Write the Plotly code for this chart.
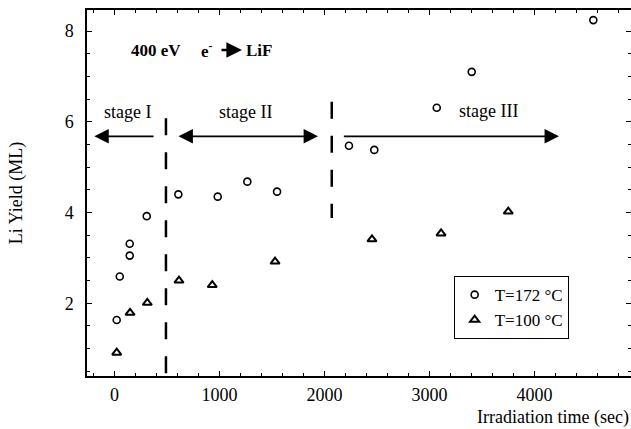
import plotly.graph_objects as go

# ---- data ----
t172_time = [21, 50, 145, 145, 307, 608, 983, 1265, 1548, 2233, 2474, 3069, 3402, 4560]
t172_yield = [1.63, 2.59, 3.05, 3.31, 3.92, 4.40, 4.35, 4.68, 4.46, 5.47, 5.38, 6.31, 7.10, 8.24]
t100_time = [21, 148, 312, 614, 931, 1529, 2452, 3110, 3750]
t100_yield = [0.91, 1.79, 2.01, 2.50, 2.40, 2.92, 3.41, 3.54, 4.02]

series_names = ["T=172 °C", "T=100 °C"]
stage_labels = ["stage I", "stage II", "stage III"]
x_ticks = [0, 1000, 2000, 3000, 4000]
y_ticks = [2, 4, 6, 8]

FONT = "Liberation Serif, Times New Roman, serif"

fig = go.Figure()
fig.add_trace(go.Scatter(
    x=t172_time, y=t172_yield, mode="markers", name=series_names[0],
    marker=dict(symbol="circle-open", size=7, color="black", line=dict(width=1.6, color="black")),
))
fig.add_trace(go.Scatter(
    x=t100_time, y=t100_yield, mode="markers", name=series_names[1],
    marker=dict(symbol="triangle-up-open", size=8, color="black", line=dict(width=2, color="black")),
))

# stage boundaries (dashed vertical lines)
fig.add_shape(type="line", x0=490, x1=490, y0=6.08, y1=0.40, xref="x", yref="y",
              line=dict(color="black", width=2.5, dash="17px,17px"))
fig.add_shape(type="line", x0=2069, x1=2069, y0=6.44, y1=3.88, xref="x", yref="y",
              line=dict(color="black", width=2.5, dash="17px,17px"))

arrow_y = 5.68
arr = dict(xref="x", yref="y", axref="x", ayref="y", text="", showarrow=True,
           arrowhead=2, arrowsize=1.6, arrowwidth=1.8, arrowcolor="black")
# stage I arrow (pointing left)
fig.add_annotation(x=-192, y=arrow_y, ax=386, ay=arrow_y, **arr)
# stage II double arrow
fig.add_annotation(x=1938, y=arrow_y, ax=595, ay=arrow_y, arrowside="end+start", **arr)
# stage III arrow (pointing right)
fig.add_annotation(x=4233, y=arrow_y, ax=2170, ay=arrow_y, **arr)

txt = dict(xref="x", yref="y", showarrow=False, font=dict(family=FONT, size=18, color="black"))
fig.add_annotation(x=124, y=6.215, text=stage_labels[0], **txt)
fig.add_annotation(x=1248, y=6.215, text=stage_labels[1], **txt)
fig.add_annotation(x=3560, y=6.23, text=stage_labels[2], **txt)

# title "400 eV  e- -> LiF"
bold = dict(xref="x", yref="y", showarrow=False, xanchor="left",
            font=dict(family=FONT, size=17, color="black"))
fig.add_annotation(x=140, y=7.58, text="<b>400 eV</b>", **bold)
fig.add_annotation(x=806, y=7.58, text="<b>e<sup>-</sup></b>", **bold)
fig.add_annotation(x=1214, y=7.58, ax=1005, ay=7.58, xref="x", yref="y", axref="x", ayref="y",
                   text="", showarrow=True, arrowhead=2, arrowsize=1.2, arrowwidth=2.6, arrowcolor="black")
fig.add_annotation(x=1235, y=7.58, text="<b>LiF</b>", **bold)

# x-axis title, right aligned
fig.add_annotation(x=1, y=0, xref="paper", yref="paper", xanchor="right", yanchor="top",
                   yshift=-29, text="Irradiation time (sec)", showarrow=False,
                   font=dict(family=FONT, size=18, color="black"))

axis_common = dict(
    showline=True, linecolor="black", linewidth=1.5, mirror="allticks",
    ticks="inside", ticklen=5, tickwidth=1.2, tickcolor="black",
    showgrid=False, zeroline=False,
    tickfont=dict(family=FONT, size=18, color="black"),
)
fig.update_xaxes(range=[-262, 4919], tickvals=x_ticks,
                 minor=dict(dtick=200, tick0=0, ticks="inside", ticklen=3, tickcolor="black", showgrid=False),
                 ticklabelstandoff=2, **axis_common)
fig.update_yaxes(range=[0.397, 8.463], tickvals=y_ticks,
                 minor=dict(dtick=0.5, tick0=0, ticks="inside", ticklen=3, tickcolor="black", showgrid=False),
                 ticklabelstandoff=8,
                 title=dict(text="Li Yield (ML)", font=dict(family=FONT, size=18, color="black"), standoff=37),
                 **axis_common)

fig.update_layout(
    width=631, height=429,
    margin=dict(l=87, r=0, t=10, b=53, autoexpand=False),
    plot_bgcolor="white", paper_bgcolor="white",
    font=dict(family=FONT, color="black"),
    showlegend=True,
    legend=dict(x=0.674, y=0.273, xanchor="left", yanchor="top",
                bgcolor="white", bordercolor="black", borderwidth=1,
                font=dict(family=FONT, size=17, color="black"),
                itemwidth=30, tracegroupgap=0),
)

fig.write_html("out.html", config={"displayModeBar": False},
               post_script="document.body.style.margin='0';")
